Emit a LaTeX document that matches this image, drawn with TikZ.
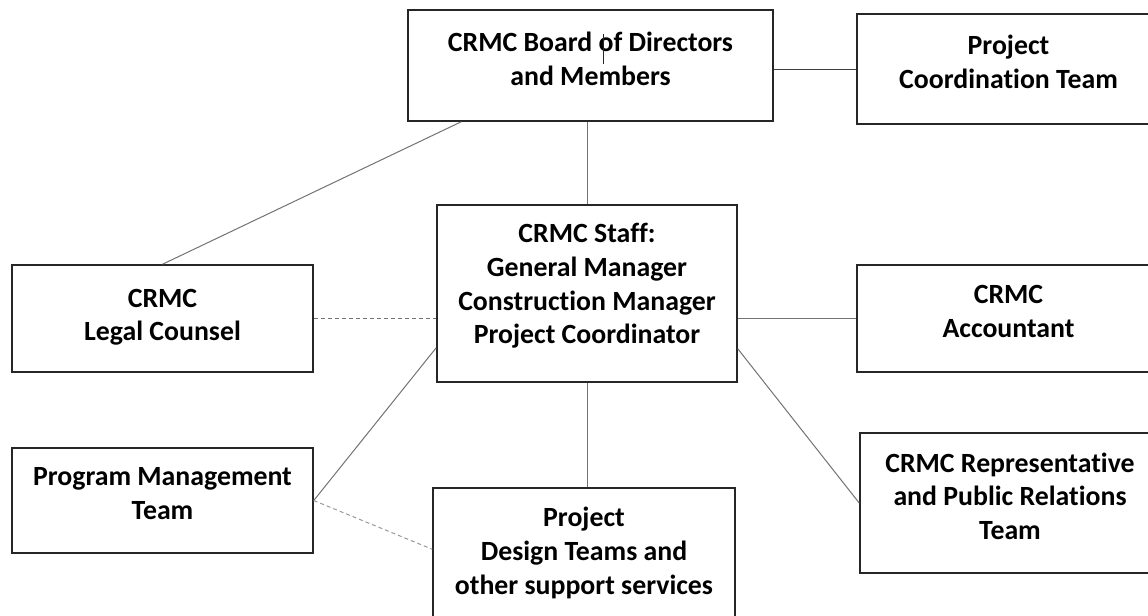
\documentclass[tikz,border=0pt]{standalone}
\usepackage{fontspec}
\setmainfont{Carlito}[Ligatures=NoCommon]

\begin{document}
\begin{tikzpicture}[x=0.5pt,y=-0.5pt,
    box/.style={draw=black!85, line width=0.75pt, align=center, inner sep=0pt,
      font=\bfseries\fontsize{13.9}{16.8}\selectfont},
    link/.style={draw=black!55, line width=0.5pt},
    dashlink/.style={link, dash pattern=on 2pt off 1.5pt}]
  \useasboundingbox (0,0) rectangle (1148,616);
  \clip (0,0) rectangle (1148,616);
  \fill[white] (0,0) rectangle (1148,616);
  % boxes
  \node[box, minimum width=182.5pt, minimum height=55.5pt] (board) at (590.5,65.5) {CRMC Board of Directors\\and Members\\[-9.8pt]};
  \node[box, minimum width=151.5pt, minimum height=55pt] (pct) at (1008.5,69) {Project\\Coordination Team\\[-9.8pt]};
  \node[box, minimum width=150pt, minimum height=88.5pt] (staff) at (587,293.5) {CRMC Staff:\\General Manager\\Construction Manager\\Project Coordinator\\[-7pt]};
  \node[box, minimum width=150.5pt, minimum height=53.5pt] (legal) at (162.5,318.5) {CRMC\\Legal Counsel\\[-13pt]};
  \node[box, minimum width=151.5pt, minimum height=53.5pt] (acct) at (1008.5,318.5) {CRMC\\Accountant\\[-9.8pt]};
  \node[box, minimum width=150.5pt, minimum height=52.5pt] (pm) at (162.5,500.5) {Program Management\\Team\\[-9.8pt]};
  \node[box, minimum width=151pt, minimum height=65pt] (design) at (584,553) {Project\\Design Teams and\\other support services};
  \node[box, minimum width=150pt, minimum height=70pt] (rep) at (1010,503) {CRMC Representative\\and Public Relations\\Team\\[-9.8pt]};
  % connectors
  \draw[link, draw=black!75] (pct.west -| board.east) -- (pct.west);
  \draw[link] (staff.north |- board.south) -- (staff.north);
  \draw[link] ([xshift=27pt]board.south west) -- (legal.north);
  \draw[dashlink] (legal.east) -- (legal.east -| staff.west);
  \draw[link] (acct.west -| staff.east) -- (acct.west);
  \draw[link] ([yshift=17pt]staff.south east) -- (rep.west);
  \draw[link] ([yshift=17.5pt]staff.south west) -- (pm.east);
  \draw[dashlink, draw=black!40] (pm.east) -- ([yshift=-31pt]design.north west);
  \draw[link] (staff.south) -- (staff.south |- design.north);
  \draw[black!85, line width=0.5pt] (603,34) -- (603,64);
\end{tikzpicture}
\end{document}
